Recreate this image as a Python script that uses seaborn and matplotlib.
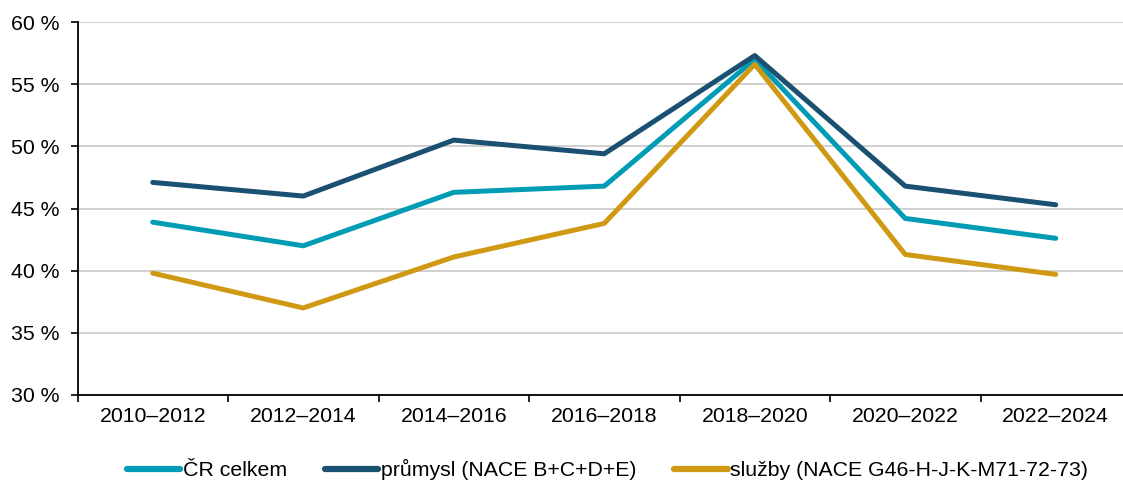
import matplotlib
matplotlib.use("Agg")
import matplotlib.pyplot as plt
import seaborn as sns
import pandas as pd
import numpy as np
from matplotlib.ticker import FixedLocator, FuncFormatter

periods = ["2010–2012", "2012–2014", "2014–2016", "2016–2018", "2018–2020", "2020–2022", "2022–2024"]
cr_celkem = [43.9, 42.0, 46.3, 46.8, 57.0, 44.2, 42.6]
prumysl = [47.1, 46.0, 50.5, 49.4, 57.3, 46.8, 45.3]
sluzby = [39.8, 37.0, 41.1, 43.8, 56.6, 41.3, 39.7]
series_names = ["ČR celkem", "průmysl (NACE B+C+D+E)", "služby (NACE G46-H-J-K-M71-72-73)"]
colors = ["#009bb4", "#1a5072", "#d09914"]

sns.set_theme(style="white")
plt.rcParams['font.family'] = ['Liberation Sans', 'DejaVu Sans']
plt.rcParams['text.color'] = 'black'

rows = []
for name, vals in zip(series_names, [cr_celkem, prumysl, sluzby]):
    for i, (p, v) in enumerate(zip(periods, vals)):
        rows.append({"x": i, "period": p, "value": v, "series": name})
df = pd.DataFrame(rows)

fig = plt.figure(figsize=(11.23, 4.83), dpi=100)
ax = fig.add_axes([77.5 / 1123, 1 - 395 / 483, (1131 - 77.5) / 1123, (395 - 22) / 483])

sns.lineplot(data=df, x="x", y="value", hue="series", hue_order=series_names,
             palette=colors, linewidth=3.6, ax=ax, legend=True, solid_capstyle="round")

fs = 15.3
ax.set_xlim(-0.5, 6.5)
ax.set_ylim(30, 60)
ax.set_yticks(np.arange(30, 61, 5))
ax.yaxis.set_major_formatter(FuncFormatter(lambda v, p: f"{int(v)} %"))
ax.set_xticks(range(len(periods)))
ax.set_xticklabels(periods)
ax.xaxis.set_minor_locator(FixedLocator(np.arange(-0.5, 6.6, 1)))
ax.tick_params(axis="x", which="major", length=0, labelsize=fs, pad=9, labelcolor="black")
ax.tick_params(axis="x", which="minor", length=5, width=1.2, color="black", direction="out", bottom=True)
ax.tick_params(axis="y", which="major", length=5, width=1.2, color="black", direction="out", left=True, labelsize=fs, pad=8, labelcolor="black")
ax.set_xlabel("")
ax.set_ylabel("")
ax.yaxis.grid(True, color="#c8c8c8", linewidth=1.2)
ax.set_axisbelow(True)
for s in ["top", "right"]:
    ax.spines[s].set_visible(False)
for s in ["left", "bottom"]:
    ax.spines[s].set_color("black")
    ax.spines[s].set_linewidth(1.3)

handles, labels = ax.get_legend_handles_labels()
ax.get_legend().remove()
leg = fig.legend(handles, labels, loc="center", bbox_to_anchor=(0.541, 0.027), ncol=3, frameon=False,
                 fontsize=fs, handlelength=2.5, handletextpad=0.12, columnspacing=1.8,
                 borderaxespad=0, borderpad=0)
for h in leg.get_lines():
    h.set_linewidth(4.5)
    h.set_solid_capstyle("round")
for t in leg.get_texts():
    t.set_color("black")

fig.savefig("out.png", dpi=100)
